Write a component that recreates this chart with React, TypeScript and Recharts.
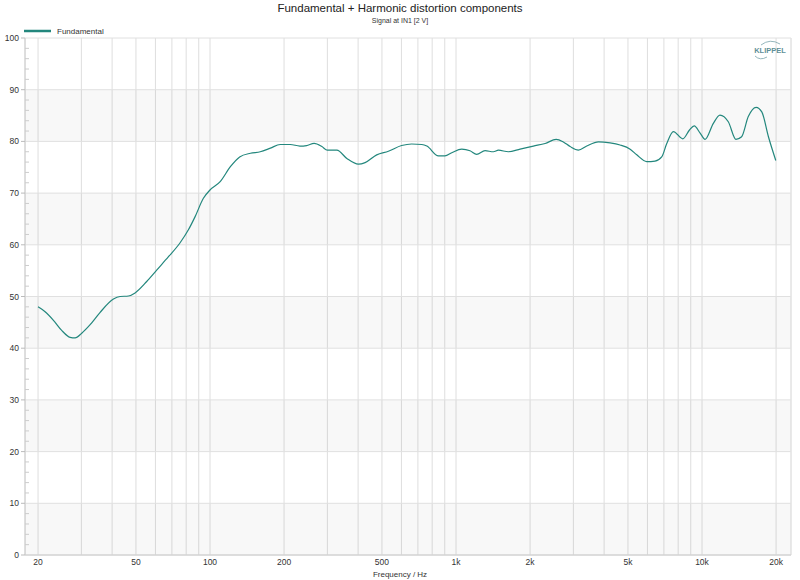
import {
  LineChart,
  Line,
  XAxis,
  YAxis,
  CartesianGrid,
  ReferenceArea,
  ReferenceLine,
} from "recharts";

// frequency (Hz) and level (dB) of the fundamental
const freqs = [
  20, 21.3, 23.1, 24.9, 27, 28.3, 30.1, 32.5, 35.7, 40.5, 43.1, 46.6, 49.6,
  55.3, 60.7, 67.8, 75.6, 81.7, 86.9, 94, 100, 110, 121, 132, 146, 160, 176,
  193, 212, 232, 247, 265, 285, 300, 328, 360, 401, 427, 476, 531, 601, 660,
  726, 761, 848, 902, 961, 1055, 1140, 1214, 1312, 1419, 1487, 1633, 1822,
  2063, 2303, 2553, 2730, 2910, 3144, 3400, 3794, 4230, 4645, 5104, 5430,
  5960, 6443, 6858, 7190, 7650, 8356, 8894, 9296, 9826, 10290, 11120, 11830,
  12790, 13740, 14490, 15420, 16590, 17500, 18620, 19950,
];
const fundamental = [
  48.0, 47.1, 45.4, 43.5, 42.1, 42.0, 42.9, 44.5, 46.9, 49.5, 50.0, 50.1, 50.7,
  52.9, 55.1, 57.7, 60.4, 62.9, 65.4, 69.0, 70.6, 72.2, 75.1, 77.0, 77.7, 78.0,
  78.7, 79.4, 79.4, 79.1, 79.2, 79.6, 79.0, 78.3, 78.3, 76.7, 75.6, 75.9, 77.4,
  78.1, 79.2, 79.5, 79.4, 79.1, 77.2, 77.2, 77.8, 78.5, 78.2, 77.5, 78.2, 78.0,
  78.3, 78.0, 78.5, 79.1, 79.6, 80.4, 79.9, 79.0, 78.3, 79.1, 79.9, 79.7, 79.3,
  78.5, 77.4, 76.1, 76.2, 77.0, 79.6, 81.9, 80.5, 82.2, 83.0, 81.6, 80.4, 83.5,
  85.1, 83.8, 80.4, 80.9, 84.8, 86.6, 85.7, 80.9, 76.3,
];

const gridFreqs = [
  20, 30, 40, 50, 60, 70, 80, 90, 100, 200, 300, 400, 500, 600, 700, 800, 900,
  1000, 2000, 3000, 4000, 5000, 6000, 7000, 8000, 9000, 10000, 20000,
];
const labelFreqs = [20, 50, 100, 200, 500, 1000, 2000, 5000, 10000, 20000];
const labelTexts = ["20", "50", "100", "200", "500", "1k", "2k", "5k", "10k", "20k"];

const dbMajor = [0, 10, 20, 30, 40, 50, 60, 70, 80, 90, 100];
const dbTicks = Array.from({ length: 51 }, (_, i) => i * 2);
const bands = [
  [0, 10],
  [20, 30],
  [40, 50],
  [60, 70],
  [80, 90],
];

const data = freqs.map((f, i) => ({ f, db: fundamental[i] }));

const FONT = "'Liberation Sans', Arial, sans-serif";
const TEAL = "#23877d";
const F_MAX = 23000;

function formatFreq(v: number) {
  const i = labelFreqs.indexOf(v);
  return i >= 0 ? labelTexts[i] : "";
}

function DbTick(props: any) {
  const { x, y, payload } = props;
  const v = payload.value;
  if (v % 10 === 0) {
    return (
      <g>
        <line x1={x - 4} x2={x} y1={y} y2={y} stroke="#bbb" />
        <text x={x - 6} y={y} dy={3} textAnchor="end" fontSize={8.5} fill="#333" fontFamily={FONT}>
          {v}
        </text>
      </g>
    );
  }
  return <line x1={x} x2={x + 4} y1={y} y2={y} stroke="#ccc" />;
}

export default function App() {
  return (
    <div style={{ position: "absolute", left: 0, top: 0, width: 800, height: 580, background: "#fff" }}>
      <LineChart
        width={800}
        height={580}
        data={data}
        margin={{ top: 38, right: 9, bottom: 0, left: 0 }}
      >
        {bands.map(([a, b]) => (
          <ReferenceArea key={a} y1={a} y2={b} fill="#000" fillOpacity={0.028} stroke="none" />
        ))}
        <CartesianGrid horizontal={false} stroke="#dedede" strokeWidth={1} />
        {dbMajor.map((v) => (
          <ReferenceLine key={v} y={v} stroke="#e0e0e0" />
        ))}
        <ReferenceLine x={F_MAX} stroke="#e4e4e4" />
        <XAxis
          dataKey="f"
          type="number"
          scale="log"
          domain={[17.7, F_MAX]}
          allowDataOverflow
          ticks={gridFreqs}
          interval={0}
          tickFormatter={formatFreq}
          tickLine={false}
          tickSize={0}
          tickMargin={4}
          height={25}
          stroke="#ccc"
          tick={{ fontSize: 8.5, fill: "#333", fontFamily: FONT }}
        />
        <YAxis
          type="number"
          domain={[0, 100]}
          ticks={dbTicks}
          interval={0}
          width={25}
          tickLine={false}
          tickSize={0}
          tickMargin={0}
          stroke="#ccc"
          tick={<DbTick />}
        />
        <Line
          dataKey="db"
          type="monotone"
          stroke={TEAL}
          strokeWidth={1.2}
          dot={false}
          isAnimationActive={false}
        />
      </LineChart>
      <svg
        width={800}
        height={580}
        style={{ position: "absolute", left: 0, top: 0, pointerEvents: "none" }}
        fontFamily={FONT}
      >
        <text x={400} y={12} textAnchor="middle" fontSize={11.5} fill="#222">
          Fundamental + Harmonic distortion components
        </text>
        <text x={400} y={23} textAnchor="middle" fontSize={7} fill="#333">
          Signal at IN1 [2 V]
        </text>
        <line x1={24} x2={51} y1={31} y2={31} stroke={TEAL} strokeWidth={2.5} />
        <text x={57} y={34} fontSize={8} fill="#333">
          Fundamental
        </text>
        <text x={770} y={53} textAnchor="middle" fontSize={7.5} fontWeight="bold" fill="#5f8f98">
          KLIPPEL
        </text>
        <path d="M 761 45 Q 770 38 780 44" stroke="#7aa3ab" strokeWidth={0.8} fill="none" />
        <path d="M 755 56 Q 760 61 767 57" stroke="#7aa3ab" strokeWidth={0.8} fill="none" />
        <text x={400} y={577} textAnchor="middle" fontSize={8} fill="#333">
          Frequency / Hz
        </text>
      </svg>
    </div>
  );
}
